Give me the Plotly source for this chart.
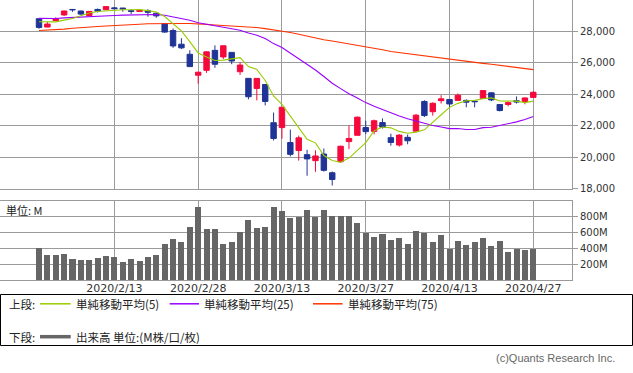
import plotly.graph_objects as go

# ---------------- data ----------------
dates = [
    "2020-01-31", "2020-02-03", "2020-02-04", "2020-02-05", "2020-02-06", "2020-02-07",
    "2020-02-10", "2020-02-11", "2020-02-12", "2020-02-13", "2020-02-14", "2020-02-18",
    "2020-02-19", "2020-02-20", "2020-02-21", "2020-02-24", "2020-02-25", "2020-02-26",
    "2020-02-27", "2020-02-28", "2020-03-02", "2020-03-03", "2020-03-04", "2020-03-05",
    "2020-03-06", "2020-03-09", "2020-03-10", "2020-03-11", "2020-03-12", "2020-03-13",
    "2020-03-16", "2020-03-17", "2020-03-18", "2020-03-19", "2020-03-20", "2020-03-23",
    "2020-03-24", "2020-03-25", "2020-03-26", "2020-03-27", "2020-03-30", "2020-03-31",
    "2020-04-01", "2020-04-02", "2020-04-03", "2020-04-06", "2020-04-07", "2020-04-08",
    "2020-04-09", "2020-04-13", "2020-04-14", "2020-04-15", "2020-04-16", "2020-04-17",
    "2020-04-20", "2020-04-21", "2020-04-22", "2020-04-23", "2020-04-24", "2020-04-27",
]
opens = [
    28813, 28280, 28696, 29048, 29400, 29300, 29010, 29400, 29383, 29500,
    29490, 29320, 29270, 29320, 29160, 28500, 28060, 27190, 26550, 25220,
    25530, 26800, 26380, 26670, 25440, 25020, 24380, 24630, 22200, 21890,
    20940, 20430, 20170, 19790, 20210, 19020, 19720, 21000, 21400, 21894,
    21650, 22210, 21250, 20780, 21270, 21660, 23550, 22900, 23600, 23680,
    23620, 23620, 23570, 23750, 24100, 23360, 23360, 23600, 23550, 23810,
]
highs = [
    28813, 28600, 28904, 29330, 29410, 29320, 29290, 29460, 29590, 29560,
    29490, 29400, 29410, 29420, 29180, 28520, 28190, 27570, 26810, 25440,
    26740, 27120, 27110, 26680, 26050, 25020, 25040, 24640, 22850, 23190,
    21760, 21380, 20480, 20450, 20560, 19100, 20740, 22020, 22596, 22330,
    22400, 22470, 21500, 21470, 21447, 22760, 23630, 23500, 23950, 23700,
    24060, 23680, 23600, 24264, 24130, 23380, 23560, 23870, 23810, 24200,
]
lows = [
    28170, 28270, 28696, 28990, 29250, 29050, 29000, 29200, 29370, 29400,
    29260, 29110, 29240, 28940, 28870, 27920, 26960, 26880, 25750, 24680,
    25370, 25690, 26240, 25920, 25240, 23690, 23620, 23300, 21070, 21190,
    20060, 19790, 18830, 19080, 19090, 18210, 19650, 20520, 21400, 21480,
    21460, 21830, 20740, 20680, 20830, 21660, 22560, 22650, 23420, 23170,
    23600, 23180, 23180, 23740, 23570, 22920, 23240, 23420, 23370, 23800,
]
closes = [
    28256, 28470, 28808, 29300, 29380, 29103, 29277, 29290, 29580, 29450,
    29440, 29280, 29350, 29220, 28992, 27961, 27081, 26958, 25767, 25409,
    26703, 25917, 27091, 26121, 25865, 23851, 25018, 23553, 21201, 23186,
    20189, 21237, 19899, 20087, 19174, 18592, 20705, 21201, 22552, 21637,
    22327, 21917, 20944, 21413, 21053, 22680, 22654, 23434, 23719, 23391,
    23950, 23504, 23538, 24242, 23650, 22973, 23476, 23515, 23775, 24134,
]
ma5 = [
    28622, 28594, 28611, 28723, 28827, 28996, 29172, 29265, 29317, 29326,
    29385, 29376, 29390, 29324, 29238, 28951, 28520, 28042, 27352, 26635,
    26384, 26151, 26177, 26248, 26339, 25769, 25589, 24882, 23898, 23362,
    22629, 21873, 21142, 20920, 20117, 19798, 19691, 19952, 20445, 20937,
    21684, 21927, 21875, 21648, 21531, 21601, 21749, 22247, 22708, 23176,
    23430, 23600, 23620, 23725, 23777, 23581, 23576, 23571, 23478, 23575,
]
ma25 = [
    28830, 28821, 28827, 28861, 28894, 28904, 28929, 28952, 28991, 29018,
    29036, 29052, 29070, 29081, 29079, 29026, 28935, 28846, 28709, 28559,
    28467, 28363, 28297, 28193, 28073, 27897, 27762, 27551, 27228, 26980,
    26624, 26302, 25927, 25548, 25138, 24706, 24365, 24039, 23772, 23478,
    23253, 23046, 22806, 22632, 22457, 22296, 22166, 22020, 21924, 21825,
    21829, 21768, 21767, 21889, 21908, 22019, 22108, 22253, 22401, 22599,
]
ma75 = [
    28064, 28085, 28128, 28149, 28200, 28255, 28290, 28320, 28345, 28362,
    28400, 28430, 28460, 28490, 28505, 28511, 28511, 28511, 28511, 28500,
    28450, 28410, 28385, 28355, 28320, 28280, 28250, 28180, 28110, 28030,
    27930, 27820, 27700, 27590, 27475, 27390, 27300, 27220, 27140, 27060,
    26960, 26840, 26730, 26660, 26590, 26520, 26450, 26390, 26320, 26265,
    26180, 26080, 26010, 25970, 25920, 25860, 25780, 25710, 25640, 25574,
]
volume_m = [
    400, 312, 312, 325, 262, 250, 250, 275, 300, 287,
    225, 262, 237, 287, 312, 450, 512, 479, 662, 912,
    637, 637, 450, 479, 600, 750, 650, 662, 912, 862,
    775, 787, 875, 787, 875, 800, 800, 800, 712, 592,
    537, 575, 500, 525, 450, 612, 592, 475, 562, 387,
    487, 437, 475, 525, 425, 487, 350, 387, 375, 387,
]
tick_dates = ["2020-02-13", "2020-02-28", "2020-03-13", "2020-03-27", "2020-04-13", "2020-04-27"]
tick_labels = ["2020/2/13", "2020/2/28", "2020/3/13", "2020/3/27", "2020/4/13", "2020/4/27"]
price_ticks = [18000, 20000, 22000, 24000, 26000, 28000]
price_tick_labels = ["18,000", "20,000", "22,000", "24,000", "26,000", "28,000"]
vol_ticks = [200, 400, 600, 800]
vol_tick_labels = ["200M", "400M", "600M", "800M"]

# ---------------- styling ----------------
W, H = 633, 373
PW, PH = 572, 280          # plot area (margin l=0, t=0)
UP = "#f5093c"
DOWN = "#1f3496"
C5, C25, C75 = "#99cc00", "#9900ff", "#ff3300"
GRID = "#9a9a9a"
TXT = "#333333"
XR = [-4.655, 63.62]


def fx(px):
    return px / PW


def fy(py):
    return 1 - py / PH


fig = go.Figure()
fig.add_trace(go.Candlestick(
    x=dates, open=opens, high=highs, low=lows, close=closes,
    increasing=dict(line=dict(color=UP, width=1), fillcolor=UP),
    decreasing=dict(line=dict(color=DOWN, width=1), fillcolor=DOWN),
    whiskerwidth=0, xaxis="x", yaxis="y", showlegend=False,
))
for vals, col in [(ma75, C75), (ma25, C25), (ma5, C5)]:
    fig.add_trace(go.Scatter(x=dates, y=vals, mode="lines",
                             line=dict(color=col, width=1.1),
                             xaxis="x", yaxis="y", showlegend=False))
fig.add_trace(go.Bar(x=dates, y=volume_m, marker=dict(color="#666666", line=dict(width=0)),
                     width=0.72, xaxis="x2", yaxis="y2", showlegend=False))

axis_common = dict(showline=True, mirror=True, linecolor=GRID, linewidth=1,
                   showgrid=True, gridcolor=GRID, gridwidth=1, zeroline=False)

fig.update_layout(
    width=W, height=H,
    margin=dict(l=0, r=W - PW, t=0, b=H - PH, pad=0),
    paper_bgcolor="white", plot_bgcolor="white",
    boxgap=0.35, boxgroupgap=0,
    bargap=0,
    font=dict(family="DejaVu Sans", size=10, color=TXT),
    xaxis=dict(type="category", domain=[0, 1], anchor="y", range=XR,
               tickvals=tick_dates, ticktext=tick_labels, showticklabels=False,
               ticks="", rangeslider=dict(visible=False), **axis_common),
    yaxis=dict(domain=[(PH - 188.8) / PH, 1], range=[18000, 30000], side="right",
               tickvals=price_ticks, ticktext=price_tick_labels,
               ticks="outside", ticklen=5, tickcolor=GRID,
               tickfont=dict(size=10, color=TXT, family="DejaVu Sans"),
               **axis_common),
    xaxis2=dict(type="category", domain=[0, 1], anchor="y2", range=XR,
                tickvals=tick_dates, ticktext=tick_labels, ticks="", ticklen=0,
                ticklabelstandoff=-2,
                tickfont=dict(size=11, color=TXT, family="DejaVu Sans"),
                **axis_common),
    yaxis2=dict(domain=[0, (PH - 201.3) / PH], range=[0, 989], side="right",
                tickvals=vol_ticks, ticktext=vol_tick_labels,
                ticks="outside", ticklen=5, tickcolor=GRID,
                tickfont=dict(size=10, color=TXT, family="DejaVu Sans"),
                **axis_common),
)

shapes = [
    dict(type="rect", xref="paper", yref="paper",
         x0=fx(0.5), x1=fx(632.5), y0=fy(294.5), y1=fy(345.5),
         line=dict(color="#000000", width=1), fillcolor="rgba(0,0,0,0)"),
]
row1, row2 = 303.8, 336.7
for (a, b, col) in [(40, 70.7, C5), (169.7, 199, C25), (313, 342.6, C75)]:
    shapes.append(dict(type="line", xref="paper", yref="paper",
                       x0=fx(a), x1=fx(b), y0=fy(row1), y1=fy(row1),
                       line=dict(color=col, width=1.5)))
shapes.append(dict(type="line", xref="paper", yref="paper",
                   x0=fx(40), x1=fx(70.7), y0=fy(row2), y1=fy(row2),
                   line=dict(color="#666666", width=3.5)))
fig.update_layout(shapes=shapes)

JP = "Noto Sans CJK JP"
ann = []


def add_text(px, py, text, size=11.5, anchor="left", color="#222222", family=JP):
    ann.append(dict(xref="paper", yref="paper", x=fx(px), y=fy(py), text=text,
                    showarrow=False, xanchor=anchor, yanchor="middle",
                    borderpad=0,
                    font=dict(family=family, size=size, color=color)))


add_text(8, row1, "上段:")
add_text(75, row1, "単純移動平均(5)")
add_text(203, row1, "単純移動平均(25)")
add_text(346.5, row1, "単純移動平均(75)")
add_text(8, row2, "下段:")
add_text(75, row2, "出来高 単位:(M株/口/枚)")
add_text(5, 209.7, "単位: M", size=11)
add_text(616, 358.5, "(c)Quants Research Inc.", size=11, anchor="right",
         color="#666666", family="Liberation Sans")
fig.update_layout(annotations=ann)

fig.write_html(
    "out.html",
    config={"displayModeBar": False, "staticPlot": True},
    post_script="document.body.style.margin='0';document.body.style.overflow='hidden';",
)
